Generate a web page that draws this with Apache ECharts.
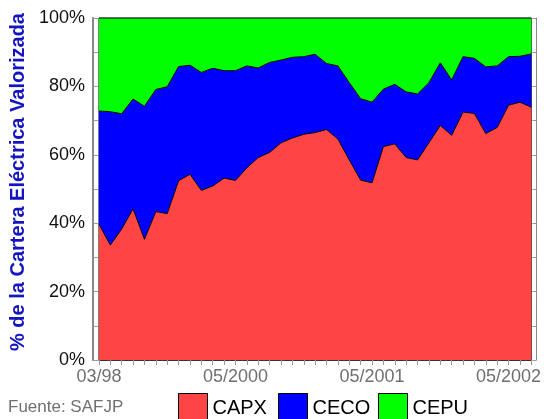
<!DOCTYPE html>
<html>
<head>
<meta charset="utf-8">
<script src="https://cdn.jsdelivr.net/npm/echarts@6/dist/echarts.min.js"></script>
<style>html,body{margin:0;padding:0;background:#fff}#c{width:544px;height:419px}</style>
</head>
<body>
<div id="c"></div>
<script>
const categories = ["03/98","06/1999","07/1999","08/1999","09/1999","10/1999","11/1999","12/1999",
  "01/2000","02/2000","03/2000","04/2000","05/2000","06/2000","07/2000","08/2000","09/2000","10/2000","11/2000","12/2000",
  "01/2001","02/2001","03/2001","04/2001","05/2001","06/2001","07/2001","08/2001","09/2001","10/2001","11/2001","12/2001",
  "01/2002","02/2002","03/2002","04/2002","05/2002","06/2002","07/2002"];
const capx = [39.7,33.6,38.3,44.2,35.3,43.4,42.8,52.4,54.3,49.6,50.9,53.2,52.5,56.2,59.2,60.7,63.5,64.9,66.0,66.5,
  67.4,64.6,58.5,52.6,51.8,62.4,63.2,59.2,58.5,63.5,68.6,65.7,72.5,72.1,66.2,68.0,74.5,75.4,73.9];
const ceco = [33.1,39.0,33.7,32.1,38.9,35.7,37.1,33.4,31.9,34.5,34.4,31.4,32.1,29.8,26.2,26.3,24.2,23.6,22.7,22.9,
  19.3,21.4,22.6,23.8,23.6,16.8,17.4,19.2,19.3,17.6,18.3,16.2,16.2,16.1,19.5,18.0,14.2,13.4,15.6];
const cepu = [27.2,27.4,28.0,23.7,25.8,20.9,20.1,14.2,13.8,15.9,14.7,15.4,15.4,14.0,14.6,13.0,12.3,11.5,11.3,10.6,
  13.3,14.0,18.9,23.6,24.6,20.8,19.4,21.6,22.2,18.9,13.1,18.1,11.3,11.8,14.3,14.0,11.3,11.2,10.5];
const seriesNames = ["CAPX","CECO","CEPU"];
const shownLabels = ["03/98","05/2000","05/2001","05/2002"];

const colors = ["#ff4444","#0000ff","#00ff00"];
const dataSets = [capx, ceco, cepu];

const chart = echarts.init(document.getElementById('c'), null, {renderer:'canvas'});
const font = "Liberation Sans, Arial, sans-serif";
const legendLefts = [173, 273, 373];

chart.setOption({
  animation: false,
  backgroundColor: '#fff',
  grid: {left: 97, right: 11, top: 18, bottom: 59, show: true, borderColor: '#222', borderWidth: 1, backgroundColor: 'transparent'},
  legend: seriesNames.map((n, i) => ({
    data: [n], left: legendLefts[i], top: 388, orient: 'horizontal',
    itemWidth: 29, itemHeight: 30, icon: 'rect', itemGap: 0,
    textStyle: {fontSize: 20, color: '#000', fontFamily: font},
    itemStyle: {color: colors[i], borderColor: '#000', borderWidth: 1}
  })),
  xAxis: {
    type: 'category', data: categories, boundaryGap: false,
    axisLine: {lineStyle: {color: '#333', width: 1}},
    axisTick: {show: true, interval: 0, length: 5, lineStyle: {color: '#999'}},
    axisLabel: {
      interval: (i, v) => shownLabels.includes(v),
      fontSize: 18, color: '#707070', fontFamily: font, margin: 8
    },
    splitLine: {show: false}
  },
  yAxis: [{
    type: 'value', min: 0, max: 100, interval: 10, offset: 6,
    name: '% de la Cartera Eléctrica Valorizada', nameLocation: 'middle', nameRotate: 90, nameGap: 58,
    nameTextStyle: {fontSize: 20, fontWeight: 'bold', color: '#1414c0', fontFamily: font, padding: [0, 0, 0, 14]},
    axisLine: {show: true, lineStyle: {color: '#888', width: 2}},
    axisTick: {show: true, inside: true, length: 5, lineStyle: {color: '#999'}},
    axisLabel: {formatter: v => (v % 20 === 0 ? v + '%' : ''), fontSize: 18, color: '#111', fontFamily: font, margin: 8},
    splitLine: {show: false}
  }, {
    type: 'value', min: 0, max: 100, interval: 10, position: 'right', offset: 5,
    axisLine: {show: true, lineStyle: {color: '#888', width: 1}},
    axisTick: {show: true, inside: true, length: 4, lineStyle: {color: '#999'}},
    axisLabel: {show: false}, splitLine: {show: false}
  }],
  series: seriesNames.map((n, i) => ({
    name: n, type: 'line', stack: 'total', data: dataSets[i],
    symbol: 'none', smooth: false,
    lineStyle: {color: '#000', width: 1},
    itemStyle: {color: colors[i]},
    areaStyle: {color: colors[i], opacity: 1}
  })),
  graphic: [{
    type: 'text', left: 8, top: 399,
    style: {text: 'Fuente: SAFJP', fontSize: 17, fill: '#707070', fontFamily: font}
  }]
});
</script>
</body>
</html>
